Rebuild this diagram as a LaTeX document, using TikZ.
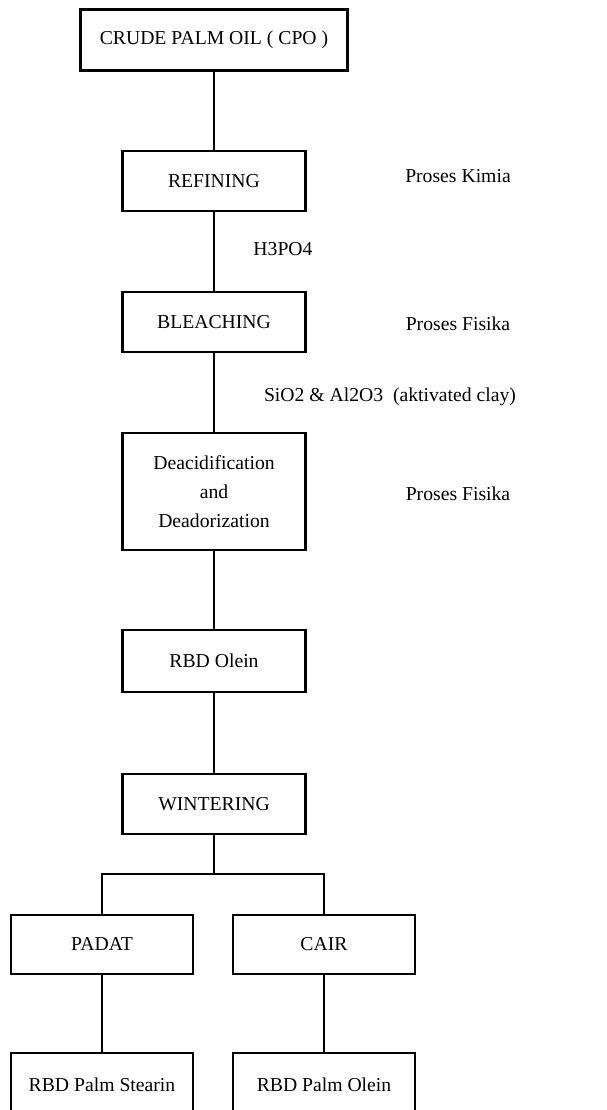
\documentclass[tikz,border=0pt]{standalone}
\usepackage{fontspec}
\setmainfont{Liberation Serif}
\usepackage{tikz}
\usetikzlibrary{positioning, calc}

\begin{document}
\begin{tikzpicture}[
    procbox/.style={draw, line width=1.5pt, minimum width=4.575cm, minimum height=1.5cm, align=center, font=\fontsize{14}{20.5}\selectfont},
    note/.style={font=\fontsize{14}{17}\selectfont},
    link/.style={line width=1.2pt}
  ]
                \useasboundingbox (0,0) rectangle (15.15,-27.75);
                \clip (0,0) rectangle (15.15,-27.75);

                % Main column
                \node[procbox, minimum width=6.675cm, minimum height=1.525cm] (cpo) at (5.35,-1.0) {CRUDE PALM OIL ( CPO )};
                \node[procbox] (refining) at (5.35,-4.525) {REFINING};
                \node[procbox] (bleaching) at (5.35,-8.06) {BLEACHING};
                \node[procbox, minimum height=2.925cm] (deacid) at (5.35,-12.29) {Deacidification\\and\\Deadorization};
                \node[procbox, minimum height=1.55cm] (olein) at (5.35,-16.525) {RBD Olein};
                \node[procbox] (wintering) at (5.35,-20.11) {WINTERING};

                % Branches
                \node[procbox, minimum width=4.55cm, minimum height=1.475cm] (padat) at (2.55,-23.61) {PADAT};
                \node[procbox, minimum width=4.55cm, minimum height=1.475cm] (cair) at (8.1,-23.61) {CAIR};
                \node[procbox, minimum width=4.55cm, minimum height=1.6cm] (stearin) at (2.55,-27.125) {RBD Palm Stearin};
                \node[procbox, minimum width=4.55cm, minimum height=1.6cm] (palmolein) at (8.1,-27.125) {RBD Palm Olein};

                % Side notes
                \node[note] (kimia) at (11.45,-4.4) {Proses Kimia};
                \node[note] (acid) at (7.075,-6.225) {H3PO4};
                \node[note] (fisika1) at (11.45,-8.1) {Proses Fisika};
                \node[note] (clay) at (9.75,-9.925) {SiO2 \& Al2O3~ (aktivated clay)};
                \node[note] (fisika2) at (11.45,-12.35) {Proses Fisika};

                % Connectors
                \draw[link] (cpo) -- (refining);
                \draw[link] (refining) -- (bleaching);
                \draw[link] (bleaching) -- (deacid);
                \draw[link] (deacid) -- (olein);
                \draw[link] (olein) -- (wintering);
                \coordinate (split) at (5.35,-21.85);
                \draw[link] (wintering) -- (split);
                \draw[link] (padat.north) |- (split) -| (cair.north);
                \draw[link] (padat) -- (stearin);
                \draw[link] (cair) -- (palmolein);
\end{tikzpicture}
\end{document}
